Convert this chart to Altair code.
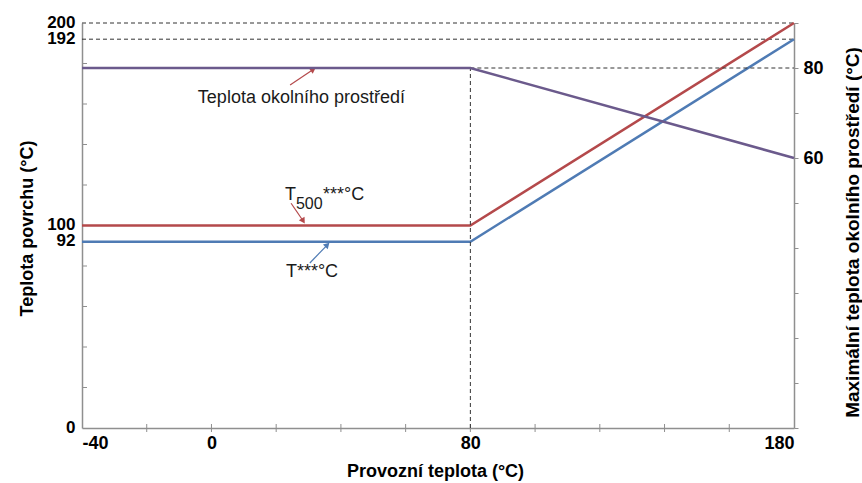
import altair as alt
import pandas as pd

# Operating temperature breakpoints (°C)
op_temp = [-40, 80, 180]
# Surface temperature curves (left axis, °C)
t500_surface = [100, 100, 200]
t_surface = [92, 92, 192]
# Maximum ambient temperature (right axis, °C)
ambient_max = [80, 80, 60]

# Axis ticks and labels
x_label_values = [-40, 0, 80, 180]
x_tick_values = [-20, 0, 20, 40, 60, 80, 100, 120, 140, 160]
left_label_values = [0, 92, 100, 192, 200]
left_tick_values = [20, 40, 60, 80, 100, 120, 140, 160, 180]
right_tick_values = [0, 10, 20, 30, 40, 50, 60, 70, 80, 90]
right_label_values = [60, 80]

# Reference lines
surface_refs = [192, 200]
ambient_ref = 80
knee_temp = 80

W, H = 712, 405
FONT = "Liberation Sans"
AXIS_GREY = "#8f8f8f"
RED = "#b4494b"
BLUE = "#4f7bb4"
PURPLE = "#6b5a8c"

xs = alt.Scale(domain=[-40, 180], nice=False, zero=False)
yl = alt.Scale(domain=[0, 200], nice=False, zero=False)
yr = alt.Scale(domain=[0, 90], nice=False, zero=False)

bottom_axis = alt.Axis(
    orient="bottom", values=x_label_values, ticks=False, grid=False,
    labelExpr="'' + datum.value", labelOverlap=False,
    domainColor=AXIS_GREY, domainWidth=1.5,
    labelFont=FONT, labelFontSize=18, labelFontWeight="bold", labelColor="black",
    labelPadding=6,
    title="Provozní teplota (°C)", titleFont=FONT, titleFontSize=18,
    titleFontWeight="bold", titleColor="black",
    titleX=353, titleY=48, titleBaseline="alphabetic", titleAlign="center",
)
left_axis = alt.Axis(
    orient="left", values=left_label_values, ticks=False, grid=False,
    labelOverlap=False, labelOffset=-1,
    domainColor=AXIS_GREY, domainWidth=1.5,
    labelFont=FONT, labelFontSize=17, labelFontWeight="bold", labelColor="black",
    labelPadding=7,
    title="Teplota povrchu (°C)", titleFont=FONT, titleFontSize=18,
    titleFontWeight="bold", titleColor="black", titleAngle=270,
    titleX=-50, titleY=205, titleBaseline="alphabetic", titleAlign="center",
)
right_axis = alt.Axis(
    orient="right", values=right_tick_values, grid=False, labelOverlap=False,
    labelExpr="indexof([60, 80], datum.value) >= 0 ? datum.label : ''",
    tickColor=AXIS_GREY, tickSize=4, tickWidth=1,
    domainColor=AXIS_GREY, domainWidth=1.5,
    labelFont=FONT, labelFontSize=18, labelFontWeight="bold", labelColor="black",
    labelPadding=5,
    title="Maximální teplota okolního prostředí (°C)", titleFont=FONT,
    titleFontSize=19, titleFontWeight="bold", titleColor="black", titleAngle=270,
    titleX=64, titleY=209, titleBaseline="alphabetic", titleAlign="center",
)

surface = pd.DataFrame({
    "temp": op_temp * 2,
    "value": t500_surface + t_surface,
    "series": ["T500"] * 3 + ["T"] * 3,
})
ambient = pd.DataFrame({"temp": op_temp, "value": ambient_max})

surface_lines = alt.Chart(surface).mark_line(strokeWidth=2.5).encode(
    x=alt.X("temp:Q", scale=xs, axis=bottom_axis),
    y=alt.Y("value:Q", scale=yl, axis=left_axis),
    color=alt.Color("series:N", scale=alt.Scale(domain=["T500", "T"], range=[RED, BLUE]), legend=None),
)

surface_ref_df = pd.DataFrame({"value": surface_refs, "x0": -40, "x1": 180})
surface_ref_lines = alt.Chart(surface_ref_df).mark_rule(
    color="#333333", strokeWidth=1, strokeDash=[4, 3]
).encode(
    y=alt.Y("value:Q", scale=yl, axis=left_axis),
    x=alt.X("x0:Q", scale=xs, axis=bottom_axis),
    x2="x1:Q",
)

# Small inward ticks on the left axis
left_ticks = alt.Chart(pd.DataFrame({"value": left_tick_values})).mark_rule(
    color=AXIS_GREY, strokeWidth=1
).encode(
    y=alt.Y("value:Q", scale=yl, axis=left_axis),
    x=alt.value(0), x2=alt.value(5),
)

# Ticks crossing the bottom axis
bottom_ticks = alt.Chart(pd.DataFrame({"temp": x_tick_values})).mark_rule(
    color=AXIS_GREY, strokeWidth=1
).encode(
    x=alt.X("temp:Q", scale=xs, axis=bottom_axis),
    y=alt.value(H - 4), y2=alt.value(H + 4),
)

# Annotation texts (left-axis coordinates)
labels = pd.DataFrame({
    "temp": [-4.2, 22.7, 22.7, 22.7, 23.0],
    "value": [160.5, 112.6, 112.6, 112.6, 74.6],
    "text": ["Teplota okolního prostředí", "T", "500", "***°C", "T***°C"],
    "dx": [0, 0, 11, 38, 0],
    "dy": [0, 0, 9, 0, 0],
    "size": [18, 18, 16, 18, 18],
})
label_layers = []
for _, row in labels.iterrows():
    label_layers.append(
        alt.Chart(pd.DataFrame([row])).mark_text(
            font=FONT, fontSize=float(row["size"]), color="#1a1a1a",
            align="left", baseline="alphabetic",
            dx=float(row["dx"]), dy=float(row["dy"]),
        ).encode(
            x=alt.X("temp:Q", scale=xs, axis=bottom_axis),
            y=alt.Y("value:Q", scale=yl, axis=left_axis),
            text="text:N",
        )
    )

# Pointer arrows from labels to curves
arrows = pd.DataFrame({
    "x0": [24.3, 24.6, 30.4],
    "y0": [169.4, 111.0, 81.5],
    "x1": [31.2, 28.2, 35.6],
    "y1": [176.8, 102.6, 90.1],
    "angle": [56, 148, 44],
    "name": ["ambient", "T500", "T"],
})
arrow_colors = alt.Scale(domain=["ambient", "T500", "T"], range=[PURPLE, RED, "#6f93c4"])
arrow_lines = alt.Chart(arrows).mark_rule(strokeWidth=1.2).encode(
    x=alt.X("x0:Q", scale=xs, axis=bottom_axis),
    y=alt.Y("y0:Q", scale=yl, axis=left_axis),
    x2="x1:Q", y2="y1:Q",
    color=alt.Color("name:N", scale=arrow_colors, legend=None),
)
arrow_heads = alt.Chart(arrows).mark_point(
    shape="triangle", filled=True, size=45, opacity=1
).encode(
    x=alt.X("x1:Q", scale=xs, axis=bottom_axis),
    y=alt.Y("y1:Q", scale=yl, axis=left_axis),
    angle=alt.Angle("angle:Q", scale=None),
    color=alt.Color("name:N", scale=arrow_colors, legend=None),
)

left_group = alt.layer(
    surface_ref_lines, left_ticks, bottom_ticks, surface_lines,
    arrow_lines, arrow_heads, *label_layers,
)

# Right-axis layers: ambient curve and its guide lines
ambient_line = alt.Chart(ambient).mark_line(strokeWidth=2.5, color=PURPLE).encode(
    x=alt.X("temp:Q", scale=xs, axis=bottom_axis),
    y=alt.Y("value:Q", scale=yr, axis=right_axis),
)
ambient_guide = alt.Chart(pd.DataFrame({"value": [ambient_ref], "x0": [knee_temp], "x1": [180]})).mark_rule(
    color="#333333", strokeWidth=1, strokeDash=[4, 3]
).encode(
    y=alt.Y("value:Q", scale=yr, axis=right_axis),
    x=alt.X("x0:Q", scale=xs, axis=bottom_axis),
    x2="x1:Q",
)
knee_guide = alt.Chart(pd.DataFrame({"temp": [knee_temp], "y0": [0], "y1": [ambient_ref]})).mark_rule(
    color="#333333", strokeWidth=1, strokeDash=[4, 3]
).encode(
    x=alt.X("temp:Q", scale=xs, axis=bottom_axis),
    y=alt.Y("y0:Q", scale=yr, axis=right_axis),
    y2="y1:Q",
)
right_group = alt.layer(knee_guide, ambient_guide, ambient_line)

chart = alt.layer(left_group, right_group).resolve_scale(
    y="independent"
).properties(
    width=W, height=H,
    autosize=alt.AutoSizeParams(type="none"),
    padding={"left": 82, "top": 23, "right": 68, "bottom": 55},
    background="white",
).configure_view(stroke=None)

chart.save("out.html", embed_options={"renderer": "svg", "actions": False})
